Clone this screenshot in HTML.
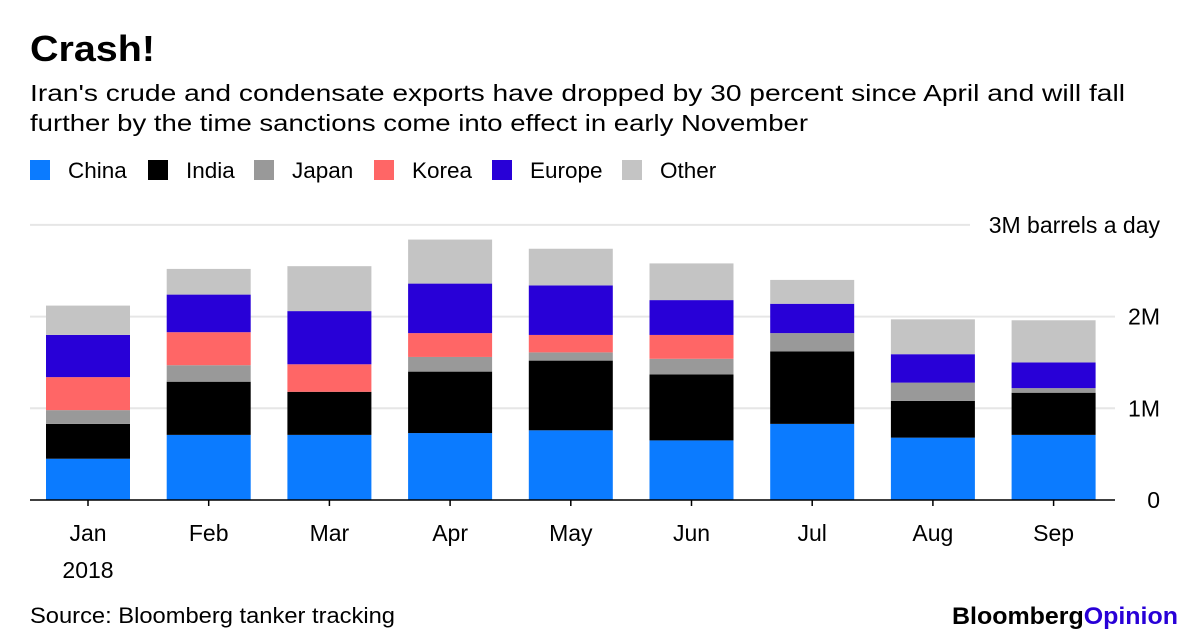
<!DOCTYPE html>
<html><head><meta charset="utf-8"><style>
body{margin:0;background:#fff;font-family:"Liberation Sans",sans-serif;}
#wrap{position:relative;width:1200px;height:643px;overflow:hidden;}
</style></head><body>
<div id="wrap">
<svg id="svg" width="1200" height="643">
<text x="30" y="61" font-size="36" font-weight="bold" fill="#000" textLength="125" lengthAdjust="spacingAndGlyphs">Crash!</text>
<text x="30" y="101" font-size="23" fill="#000" textLength="1095" lengthAdjust="spacingAndGlyphs">Iran's crude and condensate exports have dropped by 30 percent since April and will fall</text>
<text x="30" y="131" font-size="23" fill="#000" textLength="778" lengthAdjust="spacingAndGlyphs">further by the time sanctions come into effect in early November</text>
<g id="legend"></g>
<g id="grid"></g>
<g id="bars"></g>
<g id="axis"></g>
<text x="30" y="623" font-size="22" fill="#000" textLength="365" lengthAdjust="spacingAndGlyphs">Source: Bloomberg tanker tracking</text>
<text x="1178" y="624" font-size="24" font-weight="bold" text-anchor="end" textLength="226" lengthAdjust="spacingAndGlyphs"><tspan fill="#000">Bloomberg</tspan><tspan fill="#2800d7">Opinion</tspan></text>
</svg>
</div>
<script>
const categories=["Jan","Feb","Mar","Apr","May","Jun","Jul","Aug","Sep"];
const seriesNames=["China","India","Japan","Korea","Europe","Other"];
const china=[0.45,0.71,0.71,0.73,0.76,0.65,0.83,0.68,0.71];
const india=[0.38,0.58,0.47,0.67,0.76,0.72,0.79,0.40,0.46];
const japan=[0.15,0.18,0.00,0.16,0.09,0.17,0.20,0.20,0.05];
const korea=[0.36,0.36,0.30,0.26,0.19,0.26,0.00,0.00,0.00];
const europe=[0.46,0.41,0.58,0.54,0.54,0.38,0.32,0.31,0.28];
const other=[0.32,0.28,0.49,0.48,0.40,0.40,0.26,0.38,0.46];
const yTicks=[0,1,2,3];
const yTickLabels=["0","1M","2M","3M barrels a day"];
const colors=["#0b7bff","#000000","#999999","#ff6666","#2800d7","#c4c4c4"];
const series=[china,india,japan,korea,europe,other];
const NS="http://www.w3.org/2000/svg";
const y0=500,pxPer=91.7,x0=88,step=120.7,bw=84;
const y=v=>y0-v*pxPer, x=i=>x0+i*step;
function mk(t,a,p){const e=document.createElementNS(NS,t);for(const k in a)e.setAttribute(k,a[k]);p.appendChild(e);return e;}
const legend=document.getElementById('legend');
const lx=[30,148,254,374,492,622];
seriesNames.forEach((n,i)=>{
 const r=mk('rect',{x:lx[i],y:160,width:20,height:20,fill:colors[i]},legend);
 
 
 const t=mk('text',{x:lx[i]+38,y:178,'font-size':22.5},legend);t.textContent=n;
 
 
});
const grid=document.getElementById('grid');
yTicks.forEach((v,i)=>{
 if(v>0){const l=mk('line',{x1:30,x2:i===3?970:1115,y1:y(v),y2:y(v),stroke:'#e6e6e6','stroke-width':2},grid);
 
 }
 const t=mk('text',{x:1160,y:y(v)+8,'font-size':23,'text-anchor':'end'},grid);t.textContent=yTickLabels[i];
 
 
});
const bars=document.getElementById('bars');
categories.forEach((c,i)=>{
 let cum=0;
 series.forEach((s,k)=>{
  const v=s[i];if(v<=0)return;
  const r=mk('rect',{x:x(i)-bw/2,y:y(cum+v),width:bw,height:v*pxPer,fill:colors[k]},bars);
  
  
  cum+=v;
 });
});
const axis=document.getElementById('axis');
const bl=mk('line',{x1:30,x2:1115,y1:y0,y2:y0,stroke:'#000','stroke-width':1.5},axis);


categories.forEach((c,i)=>{
 const tk=mk('line',{x1:x(i),x2:x(i),y1:y0,y2:y0+6,stroke:'#000','stroke-width':1.5},axis);
 
 
 const t=mk('text',{x:x(i),y:541,'font-size':23,'text-anchor':'middle'},axis);t.textContent=c;
 
 
});
const yr=mk('text',{x:x(0),y:578,'font-size':23,'text-anchor':'middle'},axis);yr.textContent="2018";


</script>
</body></html>
